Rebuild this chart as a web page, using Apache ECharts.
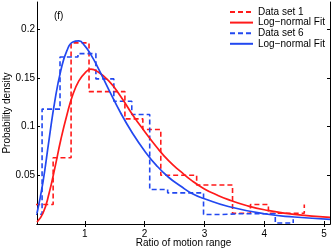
<!DOCTYPE html>
<html><head><meta charset="utf-8">
<script src="https://cdn.jsdelivr.net/npm/echarts@6/dist/echarts.min.js"></script>
<style>html,body{margin:0;padding:0;background:#fff}#c{width:332px;height:251px}</style>
</head><body><div id="c"></div>
<script>
// Histogram (stairs) left edges and bar heights
const set1Edges = [0.17,0.47,0.77,1.07,1.37,1.67,1.97,2.27,2.57,2.87,3.17,3.47,3.77,4.07,4.37,4.67];
const set1Vals  = [0.020,0.068,0.186,0.136,0.136,0.108,0.097,0.050,0.050,0.040,0.040,0.011,0.020,0.011,0.011,0.020];
const set6Edges = [-0.015,0.285,0.585,0.885,1.185,1.485,1.785,2.085,2.385,2.685,2.985,3.285,3.585,3.885,4.185,4.485];
const set6Vals  = [0.010,0.118,0.1715,0.175,0.149,0.126,0.1125,0.0355,0.032,0.032,0.0097,0.0105,0.0105,0.0105,0.001,0.005];
// Log-normal fit curves
const fit1X = [0.2,0.3,0.4,0.5,0.6,0.7,0.8,0.9,1.0,1.1,1.2,1.4,1.6,1.8,2.0,2.2,2.4,2.6,2.8,3.0,3.2,3.4,3.7,4.0,4.5,5.1];
const fit1Y = [0.002,0.011,0.031,0.058,0.087,0.112,0.133,0.147,0.155,0.159,0.157,0.147,0.131,0.112,0.095,0.079,0.065,0.054,0.044,0.036,0.030,0.025,0.019,0.0146,0.0098,0.0068];
const fit6X = [0.2,0.3,0.4,0.5,0.6,0.7,0.8,0.9,1.0,1.1,1.2,1.4,1.6,1.8,2.0,2.2,2.4,2.6,2.8,3.0,3.4,4.0,4.5,5.1];
const fit6Y = [0.011,0.043,0.086,0.127,0.158,0.178,0.187,0.188,0.183,0.174,0.163,0.138,0.114,0.093,0.075,0.060,0.048,0.039,0.031,0.026,0.018,0.0105,0.0072,0.0048];
const xTicks = [1,2,3,4,5];
const yTicks = [0.05,0.1,0.15,0.2];
const names = ['Data set 1','Log\u2212normal Fit','Data set 6','Log\u2212normal Fit '];

const RED = '#ff1a1a', BLUE = '#2248f0';
const zip = (a,b) => a.map((v,i)=>[v,b[i]]);
const font = 'Liberation Sans, Arial, Helvetica, sans-serif';

const chart = echarts.init(document.getElementById('c'));
const xBase = {type:'value',min:0.2,max:5.1,splitLine:{show:false},
  axisLine:{show:true,lineStyle:{color:'#000',width:1}},
  axisTick:{show:true,inside:true,length:3,customValues:xTicks,lineStyle:{color:'#000'}}};
const yBase = {type:'value',min:0,max:0.228,splitLine:{show:false},
  axisLine:{show:true,lineStyle:{color:'#000',width:1}},
  axisTick:{show:true,inside:true,length:3,customValues:yTicks,lineStyle:{color:'#000'}}};
chart.setOption({
  animation:false,
  grid:{left:37,right:2,top:2,bottom:27,containLabel:false},
  xAxis:[
    Object.assign({},xBase,{position:'bottom',axisLabel:{show:true,customValues:xTicks,color:'#000',fontSize:10,fontFamily:font,margin:5}}),
    Object.assign({},xBase,{position:'top',axisLabel:{show:false}})
  ],
  yAxis:[
    Object.assign({},yBase,{position:'left',axisLabel:{show:true,customValues:yTicks,color:'#000',fontSize:10,fontFamily:font,margin:2}}),
    Object.assign({},yBase,{position:'right',axisLabel:{show:false}})
  ],
  legend:{orient:'vertical',left:229,top:7,itemWidth:23,itemHeight:12,itemGap:0.6,padding:0,
    itemStyle:{opacity:0,borderWidth:0},
    textStyle:{fontSize:10,fontFamily:font,color:'#000'},
    formatter:n=>n.trim(),data:names},
  graphic:[
    {type:'text',left:54,top:11,style:{text:'(f)',font:'10px '+font,fill:'#000'}},
    {type:'text',x:183.5,y:243,style:{text:'Ratio of motion range',font:'10px '+font,fill:'#000',align:'center',verticalAlign:'middle'}},
    {type:'text',x:7,y:113,rotation:Math.PI/2,style:{text:'Probability density',font:'10px '+font,fill:'#000',align:'center',verticalAlign:'middle'}}
  ],
  series:[
    {name:names[0],type:'line',step:'end',symbol:'none',data:zip(set1Edges,set1Vals),
      lineStyle:{color:RED,width:1.6,type:[5,3]},itemStyle:{color:RED},z:2},
    {name:names[1],type:'line',smooth:true,symbol:'none',data:zip(fit1X,fit1Y),
      lineStyle:{color:RED,width:1.7},itemStyle:{color:RED},z:3},
    {name:names[2],type:'line',step:'end',symbol:'none',data:zip(set6Edges,set6Vals),
      lineStyle:{color:BLUE,width:1.6,type:[5,3]},itemStyle:{color:BLUE},z:2},
    {name:names[3],type:'line',smooth:true,symbol:'none',data:zip(fit6X,fit6Y),
      lineStyle:{color:BLUE,width:1.7},itemStyle:{color:BLUE},z:3}
  ]
});
</script></body></html>
